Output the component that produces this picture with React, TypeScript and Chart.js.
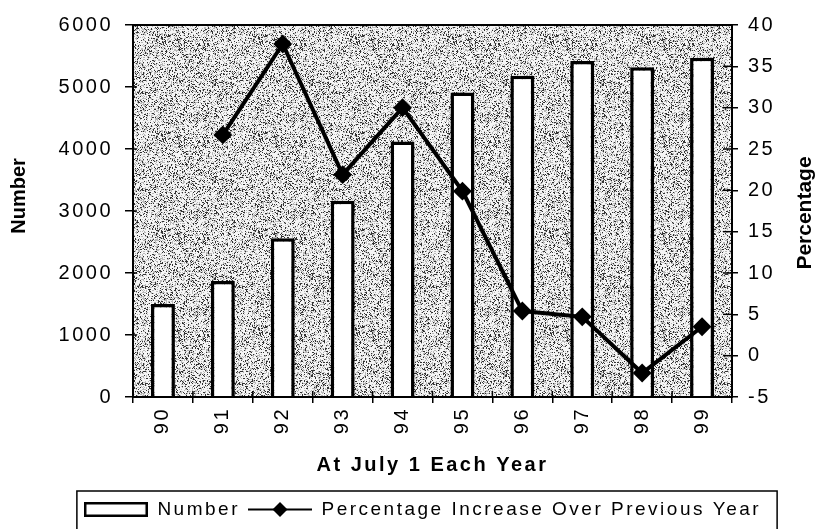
import React, { useEffect, useRef } from "react";
import { Chart, registerables } from "chart.js";

Chart.register(...registerables);

// ---- data ----
const years = ["90", "91", "92", "93", "94", "95", "96", "97", "98", "99"];
const numberValues = [1500, 1870, 2560, 3165, 4120, 4910, 5180, 5420, 5320, 5470];
const percentValues: (number | null)[] = [null, 26.7, 37.7, 21.9, 30.0, 19.9, 5.4, 4.7, -2.1, 3.5];
const numberLabel = "Number";
const percentLabel = "Percentage Increase Over Previous Year";
const xTitle = "At July 1 Each Year";
const leftTitle = "Number";
const rightTitle = "Percentage";
const leftRange = { min: 0, max: 6000, step: 1000 };
const rightRange = { min: -5, max: 40, step: 5 };

const FONT = "'Liberation Sans', Arial, Helvetica, sans-serif";

function hash(x: number, y: number) {
  let h = (Math.imul(x, 374761393) + Math.imul(y, 668265263)) | 0;
  h = Math.imul(h ^ (h >>> 13), 1274126177);
  h ^= h >>> 16;
  return (h >>> 0) / 4294967296;
}

function makePattern(ctx: CanvasRenderingContext2D) {
  const size = 97;
  const c = document.createElement("canvas");
  c.width = size;
  c.height = size;
  const pc = c.getContext("2d")!;
  const img = pc.createImageData(size, size);
  for (let y = 0; y < size; y++) {
    for (let x = 0; x < size; x++) {
      const r = hash(x + 11, y + 7);
      const v = r < 0.17 ? 50 : r < 0.42 ? 185 : 245;
      const i = (y * size + x) * 4;
      img.data[i] = v;
      img.data[i + 1] = v;
      img.data[i + 2] = v;
      img.data[i + 3] = 255;
    }
  }
  pc.putImageData(img, 0, 0);
  return ctx.createPattern(c, "repeat");
}

function makeBoxSwatch() {
  const c = document.createElement("canvas");
  c.width = 64;
  c.height = 15;
  const g = c.getContext("2d")!;
  g.fillStyle = "#fff";
  g.fillRect(0, 0, 64, 15);
  g.strokeStyle = "#000";
  g.lineWidth = 2.5;
  g.strokeRect(1.25, 1.25, 61.5, 12.5);
  return c;
}

function makeLineSwatch() {
  const c = document.createElement("canvas");
  c.width = 64;
  c.height = 17;
  const g = c.getContext("2d")!;
  g.strokeStyle = "#000";
  g.lineWidth = 2;
  g.beginPath();
  g.moveTo(0, 8.5);
  g.lineTo(64, 8.5);
  g.stroke();
  g.fillStyle = "#000";
  g.beginPath();
  g.moveTo(32, 1);
  g.lineTo(39.5, 8.5);
  g.lineTo(32, 16);
  g.lineTo(24.5, 8.5);
  g.closePath();
  g.fill();
  return c;
}

export default function App() {
  const ref = useRef<HTMLCanvasElement | null>(null);

  useEffect(() => {
    const canvas = ref.current;
    if (!canvas) return;
    const ctx0 = canvas.getContext("2d")!;
    let pattern: CanvasPattern | null = null;
    const swatches = [makeBoxSwatch(), makeLineSwatch()];

    const stylePlugin = {
      id: "stylePlugin",
      beforeUpdate(chart: any) {
        chart.ctx.letterSpacing = "2.5px";
      },
      beforeDraw(chart: any) {
        const ctx = chart.ctx;
        ctx.letterSpacing = "2.5px";
        const a = chart.chartArea;
        if (!pattern) pattern = makePattern(ctx);
        ctx.save();
        ctx.fillStyle = pattern || "#bdbdbd";
        ctx.fillRect(a.left, a.top, a.right - a.left, a.bottom - a.top);
        ctx.restore();
      },
      afterDraw(chart: any) {
        const ctx = chart.ctx;
        const a = chart.chartArea;
        ctx.save();
        ctx.letterSpacing = "0px";
        // frame
        ctx.strokeStyle = "#000";
        ctx.lineWidth = 2;
        ctx.strokeRect(a.left, a.top, a.right - a.left, a.bottom - a.top);
        // inner tick parts
        ctx.lineWidth = 1.5;
        const ys = chart.scales.y;
        ys.ticks.forEach((t: any) => {
          const p = ys.getPixelForValue(t.value);
          ctx.beginPath();
          ctx.moveTo(a.left, p);
          ctx.lineTo(a.left + 4, p);
          ctx.stroke();
        });
        const y1 = chart.scales.y1;
        y1.ticks.forEach((t: any) => {
          const p = y1.getPixelForValue(t.value);
          ctx.beginPath();
          ctx.moveTo(a.right - 9, p);
          ctx.lineTo(a.right, p);
          ctx.stroke();
        });
        const xs = chart.scales.x;
        for (let i = 1; i < years.length; i++) {
          const p = (xs.getPixelForValue(i - 1) + xs.getPixelForValue(i)) / 2;
          ctx.beginPath();
          ctx.moveTo(p, a.bottom - 6);
          ctx.lineTo(p, a.bottom);
          ctx.stroke();
        }
        // axis titles (rotated, reading bottom to top)
        ctx.fillStyle = "#000";
        ctx.font = `bold 20px ${FONT}`;
        ctx.textAlign = "center";
        ctx.textBaseline = "middle";
        ctx.save();
        ctx.translate(19, 196);
        ctx.rotate(-Math.PI / 2);
        ctx.fillText(leftTitle, 0, 0);
        ctx.restore();
        ctx.save();
        ctx.font = `bold 21px ${FONT}`;
        ctx.translate(805, 213);
        ctx.rotate(-Math.PI / 2);
        ctx.fillText(rightTitle, 0, 0);
        ctx.restore();
        // legend frame
        const lg = chart.legend;
        if (lg && lg.legendHitBoxes && lg.legendHitBoxes.length) {
          const hb = lg.legendHitBoxes;
          const first = hb[0];
          const last = hb[hb.length - 1];
          const left = first.left - 7;
          const right = last.left + last.width + 16;
          ctx.lineWidth = 1.5;
          ctx.strokeRect(left, lg.top - 1, right - left, 60);
        }
        ctx.restore();
      },
    };

    const plainTick = (v: any) => String(v);

    const chart = new Chart(ctx0, {
      type: "bar",
      data: {
        labels: years,
        datasets: [
          {
            type: "bar",
            label: numberLabel,
            data: numberValues,
            backgroundColor: "#ffffff",
            borderColor: "#000000",
            borderWidth: 3.5,
            barPercentage: 0.4,
            categoryPercentage: 1,
            yAxisID: "y",
            order: 1,
          } as any,
          {
            type: "line",
            label: percentLabel,
            data: percentValues,
            borderColor: "#000000",
            backgroundColor: "#000000",
            fill: false,
            borderWidth: 4,
            pointStyle: "rectRot",
            pointRadius: 8,
            pointBackgroundColor: "#000000",
            pointBorderColor: "#000000",
            pointBorderWidth: 2,
            tension: 0,
            spanGaps: false,
            yAxisID: "y1",
            order: 0,
          } as any,
        ],
      },
      options: {
        responsive: false,
        animation: false,
        devicePixelRatio: 1,
        layout: { padding: { left: 29, right: 0, top: 25, bottom: 0 } },
        plugins: {
          tooltip: { enabled: false },
          title: { display: false },
          legend: {
            display: true,
            position: "bottom",
            labels: {
              usePointStyle: true,
              pointStyleWidth: 64,
              boxHeight: 19,
              padding: 8,
              color: "#000",
              font: { family: FONT, size: 19 },
              generateLabels: (chart: any) =>
                chart.data.datasets.map((ds: any, i: number) => ({
                  text: ds.label,
                  pointStyle: swatches[i],
                  datasetIndex: i,
                  hidden: false,
                  fillStyle: "#fff",
                  strokeStyle: "#000",
                  lineWidth: 0,
                  fontColor: "#000",
                })),
            },
          },
        },
        scales: {
          x: {
            offset: true,
            grid: {
              display: true,
              drawOnChartArea: false,
              drawTicks: true,
              tickLength: 6,
              color: "#000",
              lineWidth: 1.5,
              offset: true,
            },
            border: { display: true, color: "#000", width: 2 },
            ticks: {
              color: "#000",
              font: { family: FONT, size: 20 },
              maxRotation: 90,
              minRotation: 90,
              autoSkip: false,
              padding: 4,
            },
            title: {
              display: true,
              text: xTitle,
              color: "#000",
              font: { family: FONT, size: 20, weight: "bold" },
              padding: { top: 0, bottom: 15 },
            },
            afterFit: (s: any) => {
              s.height = 95;
            },
          },
          y: {
            position: "left",
            min: leftRange.min,
            max: leftRange.max,
            grid: {
              display: true,
              drawOnChartArea: false,
              drawTicks: true,
              tickLength: 8,
              color: "#000",
              lineWidth: 1.5,
            },
            border: { display: true, color: "#000", width: 2 },
            ticks: {
              stepSize: leftRange.step,
              color: "#000",
              font: { family: FONT, size: 20 },
              padding: 12,
              callback: plainTick,
            },
            afterFit: (s: any) => {
              s.width = 104;
            },
          },
          y1: {
            position: "right",
            min: rightRange.min,
            max: rightRange.max,
            grid: {
              display: true,
              drawOnChartArea: false,
              drawTicks: true,
              tickLength: 6,
              color: "#000",
              lineWidth: 1.5,
            },
            border: { display: true, color: "#000", width: 2 },
            ticks: {
              stepSize: rightRange.step,
              color: "#000",
              font: { family: FONT, size: 20 },
              padding: 10,
              callback: plainTick,
            },
            afterFit: (s: any) => {
              s.width = 84;
            },
          },
        },
      } as any,
      plugins: [stylePlugin],
    });

    return () => {
      chart.destroy();
    };
  }, []);

  return (
    <div style={{ position: "absolute", left: 0, top: 0, width: 816, height: 529, background: "#fff" }}>
      <canvas ref={ref} width={816} height={529} style={{ display: "block", width: 816, height: 529 }} />
    </div>
  );
}
